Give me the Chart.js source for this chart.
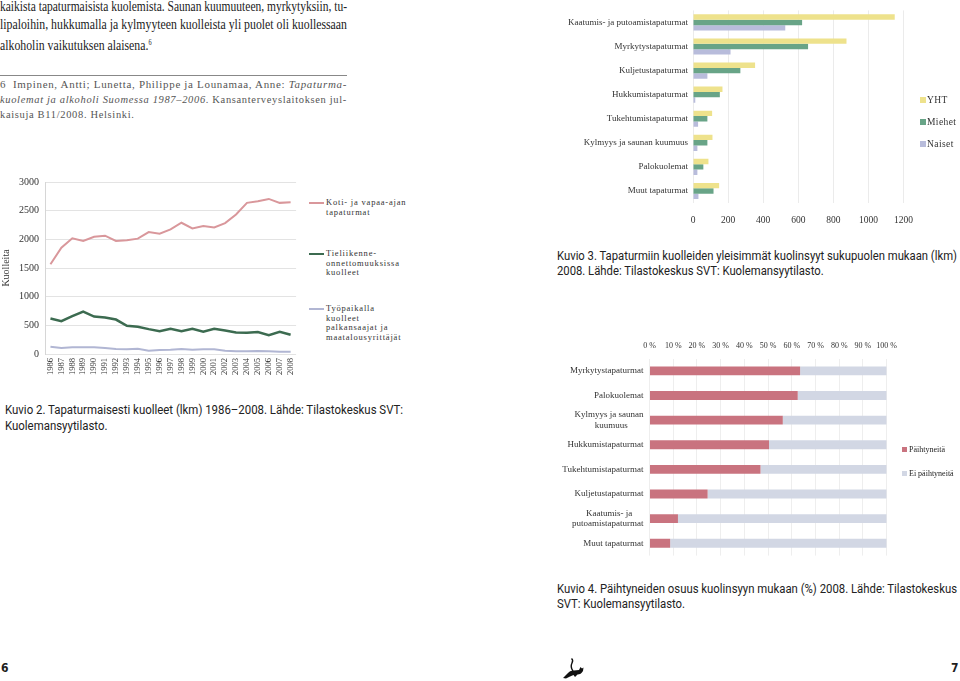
<!DOCTYPE html>
<html lang="fi"><head><meta charset="utf-8">
<script src="https://cdn.jsdelivr.net/npm/chart.js@4.4.1/dist/chart.umd.min.js"></script>
<style>
html,body{margin:0;padding:0}
body{width:960px;height:681px;position:relative;overflow:hidden;background:#fff;color:#1e1e1e}
.a{position:absolute;white-space:nowrap;transform-origin:0 0}
.para{font-family:"Liberation Serif",serif;font-size:15px;line-height:15px;color:#222}
.fn{font-family:"Liberation Serif",serif;font-size:9.5px;line-height:10px;color:#555;letter-spacing:0.6px}
.cap{font-family:"Roboto","Liberation Sans",sans-serif;font-size:12.5px;line-height:13px;color:#222}
.lg{font-family:"Liberation Serif",serif;font-size:8.5px;line-height:9.7px;color:#333;letter-spacing:0.8px}
.lg2{font-family:"Liberation Serif",serif;font-size:9.5px;line-height:10px;color:#333;letter-spacing:0.4px}
.lg3{font-family:"Liberation Serif",serif;font-size:8px;line-height:10px;color:#222;letter-spacing:0;-webkit-font-smoothing:antialiased}
.sq{position:absolute;width:6px;height:6px}
.pg{font-family:"DejaVu Sans Condensed","DejaVu Sans",sans-serif;font-weight:bold;font-size:12px;line-height:12px}
canvas{display:block;position:absolute}
</style></head><body>
<script>
// ---- Kuvio 2 data ----
const years = ['1986','1987','1988','1989','1990','1991','1992','1993','1994','1995','1996','1997','1998','1999','2000','2001','2002','2003','2004','2005','2006','2007','2008'];
const kotiVapaa   = [1566,1855,2017,1971,2046,2064,1971,1983,2012,2127,2098,2173,2289,2191,2231,2208,2283,2434,2636,2665,2705,2636,2647];
const tieliikenne = [618,572,659,740,653,636,601,491,474,434,399,439,399,439,387,439,410,376,370,382,329,387,335];
const tyopaikka   = [127,104,116,116,116,104,87,81,92,58,69,75,87,75,81,81,58,46,46,52,46,40,40];
const yTicks2 = [0,500,1000,1500,2000,2500,3000];

// ---- Kuvio 3 data ----
const causes3 = ['Kaatumis- ja putoamistapaturmat','Myrkytystapaturmat','Kuljetustapaturmat','Hukkumistapaturmat','Tukehtumistapaturmat','Kylmyys ja saunan kuumuus','Palokuolemat','Muut tapaturmat'];
const yht    = [1150,875,354,168,109,111,88,149];
const miehet = [622,656,270,153,82,82,59,117];
const naiset = [526,214,82,13,29,25,25,31];

// ---- Kuvio 4 data ----
const causes4 = ['Myrkytystapaturmat','Palokuolemat',['Kylmyys ja saunan','kuumuus       '],'Hukkumistapaturmat','Tukehtumistapaturmat','Kuljetustapaturmat',['Kaatumis- ja     ','putoamistapaturmat'],'Muut tapaturmat'];
const paihtyneita    = [63.5,62.5,56.2,50.4,46.8,24.5,12.0,8.7];
const eiPaihtyneita  = [36.5,37.5,43.8,49.6,53.2,75.5,88.0,91.3];
</script>

<div class="a para fit" data-w="347" style="left:0;top:-1.5px">kaikista tapaturmaisista kuolemista. Saunan kuumuuteen, myrkytyksiin, tu-</div>
<div class="a para fit" data-w="347" style="left:0;top:16.5px">lipaloihin, hukkumalla ja kylmyyteen kuolleista yli puolet oli kuollessaan</div>
<div class="a para fit" data-ref="1" style="left:0;top:34.5px">alkoholin vaikutuksen alaisena.<sup style="font-size:8px;vertical-align:5px">6</sup></div>
<div class="a" style="left:0;top:75px;width:347px;height:1px;background:#888"></div>
<div class="a fn fit" data-w="347" style="left:0;top:80px">6&nbsp;&nbsp;Impinen, Antti; Lunetta, Philippe ja Lounamaa, Anne: <i>Tapaturma-</i></div>
<div class="a fn fit" data-w="347" style="left:0;top:95px"><i>kuolemat ja alkoholi Suomessa 1987–2006</i>. Kansanterveyslaitoksen jul-</div>
<div class="a fn fit" data-ref="1" style="left:0;top:110px">kaisuja B11/2008. Helsinki.</div>

<canvas id="c1" width="305" height="212" style="left:0;top:170px"></canvas>
<div class="a" style="left:309px;top:202px;width:15px;height:2px;background:#d9979b"></div>
<div class="a lg" style="left:326px;top:198px">Koti- ja vapaa-ajan<br>tapaturmat</div>
<div class="a" style="left:309px;top:253px;width:15px;height:2px;background:#3c6b50"></div>
<div class="a lg" style="left:326px;top:249px">Tieliikenne-<br>onnettomuuksissa<br>kuolleet</div>
<div class="a" style="left:309px;top:308px;width:15px;height:2px;background:#b1b6d3"></div>
<div class="a lg" style="left:326px;top:304px">Työpaikalla<br>kuolleet<br>palkansaajat ja<br>maatalousyrittäjät</div>

<div class="a cap fit" data-w="398" style="left:5px;top:403px">Kuvio 2. Tapaturmaisesti kuolleet (lkm) 1986–2008. Lähde: Tilastokeskus SVT:</div>
<div class="a cap fit" data-ref="1" style="left:5px;top:419px">Kuolemansyytilasto.</div>

<canvas id="c2" width="365" height="232" style="left:560px;top:0"></canvas>
<div class="sq" style="left:920px;top:97px;background:#eee28c"></div>
<div class="a lg2" style="left:927px;top:95px">YHT</div>
<div class="sq" style="left:920px;top:119px;background:#68a487"></div>
<div class="a lg2" style="left:927px;top:117px">Miehet</div>
<div class="sq" style="left:920px;top:141px;background:#b8bcdb"></div>
<div class="a lg2" style="left:927px;top:139px">Naiset</div>

<div class="a cap fit" data-w="400" style="left:557px;top:249px">Kuvio 3. Tapaturmiin kuolleiden yleisimmät kuolinsyyt sukupuolen mukaan (lkm)</div>
<div class="a cap fit" data-ref="1" style="left:557px;top:264px">2008. Lähde: Tilastokeskus SVT: Kuolemansyytilasto.</div>

<canvas id="c3" width="345" height="232" style="left:560px;top:335px"></canvas>
<div class="sq" style="left:902px;top:447px;background:#c9737f;width:5px;height:5px"></div>
<div class="a lg3" style="left:909px;top:445px">Päihtyneitä</div>
<div class="sq" style="left:902px;top:471px;background:#d2d7e4;width:5px;height:5px"></div>
<div class="a lg3" style="left:909px;top:469px">Ei päihtyneitä</div>

<div class="a cap fit" data-w="400" style="left:557px;top:582px">Kuvio 4. Päihtyneiden osuus kuolinsyyn mukaan (%) 2008. Lähde: Tilastokeskus</div>
<div class="a cap fit" data-ref="1" style="left:557px;top:597px">SVT: Kuolemansyytilasto.</div>

<div class="a pg" style="left:1px;top:662px">6</div>
<div class="a pg" style="left:951px;top:662px">7</div>
<svg class="a" style="left:562px;top:657px" width="24" height="22" viewBox="0 0 24 22">
<path d="M1 21 L6 16 Q8 13 12 13.5 L17 13 L18.5 10 L20 11.5 L21.5 10.5 L21 14 Q19 17.5 15.5 17.5 L13 20 L11.5 18 L8 19.5 L4 21.5 Z" fill="#111"/>
<path d="M11 14 Q8 10 10 6 Q11.5 3 9.5 1.5" stroke="#111" stroke-width="1.4" fill="none"/>
</svg>

<script>
(function(){
  let last = 1;
  document.querySelectorAll('.fit').forEach(el=>{
    if(el.dataset.w){
      const w = el.getBoundingClientRect().width;
      last = (+el.dataset.w)/w;
    }
    el.style.transform = 'scaleX('+last+')';
  });
})();

Chart.defaults.font.family = '"Liberation Serif", serif';
Chart.defaults.color = '#333';
const plain = v => String(v);

new Chart(document.getElementById('c1'), {
  type:'line',
  data:{labels:years, datasets:[
    {label:'Koti- ja vapaa-ajan tapaturmat', data:kotiVapaa, borderColor:'#d9979b', borderWidth:2, pointRadius:0, tension:0},
    {label:'Tieliikenneonnettomuuksissa kuolleet', data:tieliikenne, borderColor:'#3c6b50', borderWidth:2.5, pointRadius:0, tension:0},
    {label:'Työpaikalla kuolleet palkansaajat ja maatalousyrittäjät', data:tyopaikka, borderColor:'#b1b6d3', borderWidth:2, pointRadius:0, tension:0}
  ]},
  options:{responsive:false, animation:false,
    layout:{padding:{left:0,right:8,top:11,bottom:0}},
    plugins:{legend:{display:false}, tooltip:{enabled:false}},
    scales:{
      x:{offset:true, grid:{display:false, drawTicks:false}, border:{display:false},
         ticks:{autoSkip:false, minRotation:90, maxRotation:90, padding:4, font:{size:8.5}},
         afterFit(s){ s.height = 28; }},
      y:{min:0, max:3000, afterBuildTicks(s){ s.ticks = yTicks2.map(v=>({value:v})); },
         ticks:{padding:6, font:{size:10}, callback:plain},
         grid:{color:'#e3e3e3', drawTicks:false}, border:{color:'#d6d6d6'},
         title:{display:true, text:'Kuolleita', font:{size:10}, padding:0},
         afterFit(s){ s.width = 45; }}
    }}
});

new Chart(document.getElementById('c2'), {
  type:'bar',
  data:{labels:causes3, datasets:[
    {label:'YHT', data:yht, backgroundColor:'#eee28c'},
    {label:'Miehet', data:miehet, backgroundColor:'#68a487'},
    {label:'Naiset', data:naiset, backgroundColor:'#b8bcdb'}
  ]},
  options:{indexAxis:'y', responsive:false, animation:false,
    datasets:{bar:{categoryPercentage:0.67, barPercentage:1}},
    layout:{padding:{left:0,right:13,top:5,bottom:0}},
    plugins:{legend:{display:false}, tooltip:{enabled:false}},
    scales:{
      x:{min:0, max:1200, ticks:{stepSize:200, padding:12, font:{size:9.5}, callback:plain, maxRotation:0, autoSkip:false},
         grid:{color:'#ebebeb', drawTicks:false}, border:{display:false},
         afterFit(s){ s.height = 29; }},
      y:{grid:{display:false, drawTicks:false}, border:{display:false},
         ticks:{padding:5, font:{size:9}, autoSkip:false},
         afterFit(s){ s.width = 133; }}
    }}
});

new Chart(document.getElementById('c3'), {
  type:'bar',
  data:{labels:causes4, datasets:[
    {label:'Päihtyneitä', data:paihtyneita, backgroundColor:'#c9737f'},
    {label:'Ei päihtyneitä', data:eiPaihtyneita, backgroundColor:'#d2d7e4'}
  ]},
  options:{indexAxis:'y', responsive:false, animation:false,
    datasets:{bar:{categoryPercentage:0.4, barPercentage:0.9}},
    layout:{padding:{left:0,right:9,top:0,bottom:6}},
    plugins:{legend:{display:false}, tooltip:{enabled:false}},
    scales:{
      x:{position:'top', stacked:true, min:0, max:100,
         ticks:{stepSize:10, padding:8, font:{size:8}, callback:v=>v+' %', minRotation:0, maxRotation:0, autoSkip:false},
         grid:{color:'#eeeeee', drawTicks:false}, border:{display:false},
         afterFit(s){ s.height = 23.5; }},
      y:{stacked:true, grid:{display:false, drawTicks:false}, border:{display:false},
         ticks:{padding:6, font:{size:9}, autoSkip:false},
         afterFit(s){ s.width = 89.5; }}
    }}
});
</script>
</body></html>
